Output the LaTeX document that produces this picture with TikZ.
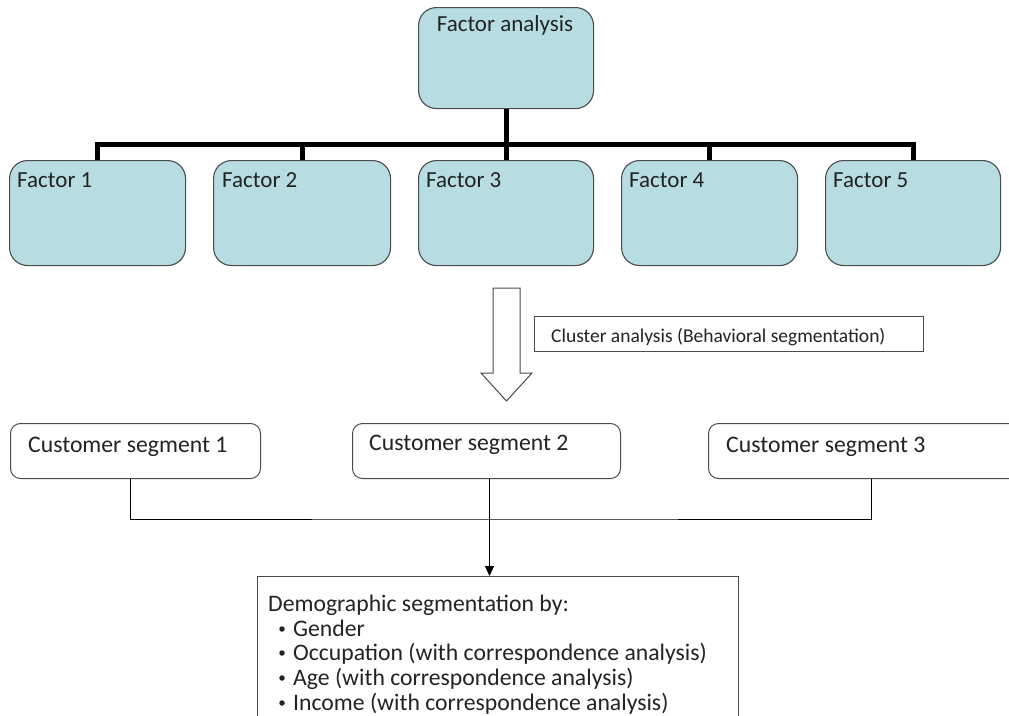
\documentclass[tikz,border=0pt]{standalone}
\usepackage{fontspec}
\setmainfont{Carlito}
\usetikzlibrary{calc,arrows.meta}
\definecolor{boxblue}{RGB}{183,221,227}
\definecolor{boxedge}{RGB}{75,75,75}
\definecolor{ink}{RGB}{35,35,35}
\begin{document}
\begin{tikzpicture}[x=1pt,y=-1pt,
  fbox/.style={draw=boxedge, fill=boxblue, line width=1.1pt, rounded corners=18pt, inner sep=0pt, anchor=north west},
  sbox/.style={draw=boxedge, fill=white, line width=1pt, rounded corners=10pt, inner sep=0pt, anchor=north west},
  pbox/.style={draw=boxedge, fill=white, line width=1pt, inner sep=0pt, anchor=north west},
  txt/.style={anchor=base west, inner sep=0pt, text=ink, font=\fontsize{23}{28}\selectfont},
  bigtxt/.style={anchor=base west, inner sep=0pt, text=ink, font=\fontsize{23.7}{28}\selectfont},
  smalltxt/.style={anchor=base west, inner sep=0pt, text=ink, font=\fontsize{19.5}{24}\selectfont},
  dot/.style={circle, fill=ink, inner sep=0pt, minimum size=5.5pt},
  bus/.style={line width=5pt, black},
  thinline/.style={line width=1pt, black},
  hollow/.style={draw=boxedge, line width=1pt, fill=white},
]
\useasboundingbox (0,0) rectangle (1009,715);

% top box
\node[fbox, minimum width=175, minimum height=101] (top) at (418,7) {};
\node[txt, anchor=base] (ttop) at (505,31) {Factor analysis};

% factor boxes
\node[fbox, minimum width=176, minimum height=105] (f1) at (9,160) {};
\node[fbox, minimum width=177, minimum height=105] (f2) at (213,160) {};
\node[fbox, minimum width=175, minimum height=105] (f3) at (418,160) {};
\node[fbox, minimum width=176, minimum height=105] (f4) at (621,160) {};
\node[fbox, minimum width=175, minimum height=105] (f5) at (825,160) {};
\node[txt] (tf1) at ($(f1.north west)+(8,27)$) {Factor 1};
\node[txt] (tf2) at ($(f2.north west)+(9,27)$) {Factor 2};
\node[txt] (tf3) at ($(f3.north west)+(8,27)$) {Factor 3};
\node[txt] (tf4) at ($(f4.north west)+(8,27)$) {Factor 4};
\node[txt] (tf5) at ($(f5.north west)+(8,27)$) {Factor 5};

% bus
\coordinate (bl) at (97,144);
\draw[bus] (top.south) -- (f3.north);
\draw[bus, line join=miter] (f1.north) -- (f1.north |- bl) -- (f5.north |- bl) -- (f5.north);
\draw[bus] (f2.north) -- (f2.north |- bl);
\draw[bus] (f4.north) -- (f4.north |- bl);

% hollow arrow
\draw[hollow] (493,288) -- (520,288) -- (520,373) -- (532,373) -- (506.5,401) -- (481,373) -- (493,373) -- cycle;

% cluster label
\node[pbox, minimum width=389, minimum height=35] (clu) at (534,316) {};
\node[smalltxt] (tclu) at (551,342) {Cluster analysis (Behavioral segmentation)};

% segments
\node[sbox, minimum width=250, minimum height=55] (seg1) at (10,423) {};
\node[sbox, minimum width=268, minimum height=55] (seg2) at (352,423) {};
\node[sbox, minimum width=320, minimum height=55] (seg3) at (708,423) {};
\node[bigtxt] (ts1) at (28,452) {Customer segment 1};
\node[bigtxt] (ts2) at (369,450) {Customer segment 2};
\node[bigtxt] (ts3) at (726,452) {Customer segment 3};

% demographic box
\node[pbox, minimum width=481, minimum height=160] (demo) at (257,576) {};
\node[bigtxt] (d0) at (268,611) {Demographic segmentation by:};
\node[dot] (b1) at (282,629) {};
\node[dot] (b2) at (282,653) {};
\node[dot] (b3) at (282,678) {};
\node[dot] (b4) at (282,703) {};
\node[bigtxt] (d1) at (293,636) {Gender};
\node[bigtxt] (d2) at (293,660) {Occupation (with correspondence analysis)};
\node[bigtxt] (d3) at (293,685) {Age (with correspondence analysis)};
\node[bigtxt] (d4) at (293,710) {Income (with correspondence analysis)};

% connectors
\coordinate (j) at (489,519);
\draw[thinline] ([xshift=-5pt]seg1.south) |- (j) -| ([xshift=3pt]seg3.south);
\draw[thinline, -{Triangle[length=10pt,width=9pt]}] ([xshift=3pt]seg2.south) -- ([xshift=3pt]seg2.south |- demo.north);
\end{tikzpicture}
\end{document}
